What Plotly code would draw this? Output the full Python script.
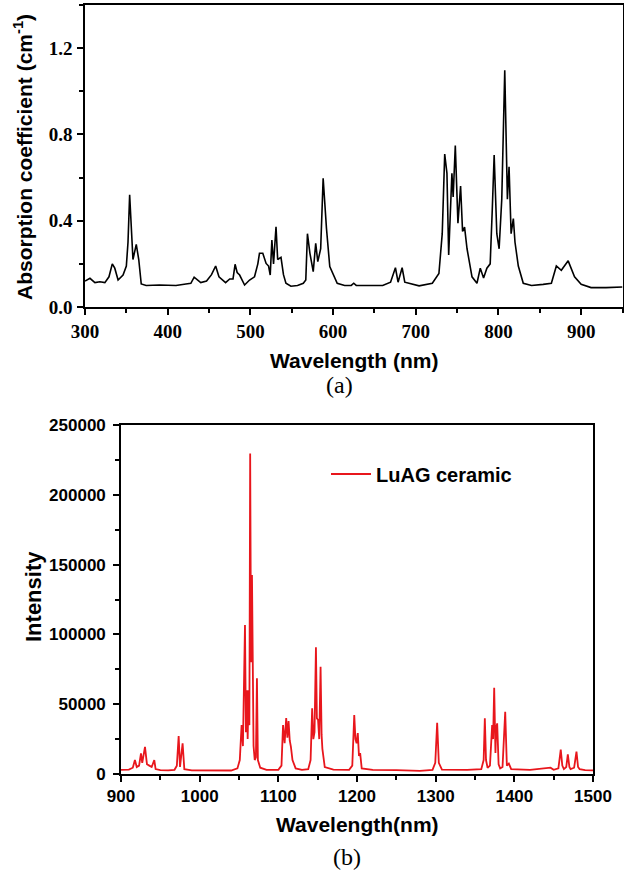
import plotly.graph_objects as go

# ---------------- data: (a) absorption spectrum ----------------
abs_wl = [300, 306, 312, 318, 324, 329, 333, 336, 340, 346, 350, 352, 354, 356, 358, 362, 365, 368,
          374, 390, 410, 422, 428, 432, 436, 440, 447, 453, 458, 462, 470, 475, 479, 481.5, 484, 487,
          493, 499, 505, 509, 511, 515, 519, 522, 524, 526, 528, 531, 533, 537, 540, 543, 549, 557,
          564, 567, 569, 572, 576, 579, 581.5, 585, 588, 590, 592, 596, 599, 605, 614, 622, 625, 628,
          640, 660, 669.5, 675.4, 678.6, 683.5, 686.7, 695.6, 704, 720, 728, 732, 735, 737.7, 739.8,
          743.7, 745.2, 747.8, 751, 754.2, 756.6, 759, 762, 768, 774, 778, 782, 786, 790, 792.5,
          794.8, 798, 800.8, 804, 807.6, 810.8, 812.8, 815.3, 818, 820, 824, 830, 840, 854, 864, 870,
          876, 884.3, 892, 900, 912, 930, 950]
abs_coef = [0.12, 0.133, 0.113, 0.117, 0.113, 0.14, 0.20, 0.18, 0.125, 0.148, 0.19, 0.30, 0.52, 0.36,
            0.22, 0.29, 0.22, 0.107, 0.10, 0.102, 0.10, 0.107, 0.11, 0.138, 0.125, 0.113, 0.12, 0.15,
            0.19, 0.14, 0.113, 0.13, 0.13, 0.198, 0.16, 0.148, 0.102, 0.125, 0.14, 0.20, 0.249, 0.249,
            0.202, 0.19, 0.148, 0.31, 0.20, 0.372, 0.22, 0.23, 0.15, 0.11, 0.096, 0.10, 0.11, 0.125,
            0.34, 0.249, 0.164, 0.295, 0.21, 0.27, 0.597, 0.45, 0.365, 0.187, 0.16, 0.11, 0.10, 0.10,
            0.11, 0.10, 0.10, 0.10, 0.115, 0.182, 0.115, 0.182, 0.115, 0.105, 0.098, 0.11, 0.155, 0.34,
            0.709, 0.62, 0.241, 0.62, 0.51, 0.748, 0.388, 0.561, 0.35, 0.37, 0.27, 0.14, 0.11, 0.18,
            0.134, 0.18, 0.20, 0.45, 0.705, 0.34, 0.27, 0.50, 1.098, 0.50, 0.65, 0.34, 0.41, 0.30,
            0.19, 0.11, 0.10, 0.105, 0.11, 0.19, 0.17, 0.214, 0.14, 0.105, 0.09, 0.09, 0.093]

# ---------------- data: (b) emission spectrum ----------------
em_wl = [900, 910, 915, 917.7, 920, 923, 925.4, 927, 930.5, 933, 936, 939, 942.3, 944, 950, 960, 968,
         971, 973.3, 975, 978.3, 980.5, 990, 1000, 1020, 1040, 1048, 1051, 1053.3, 1055, 1057.6,
         1058.8, 1060, 1061, 1062.3, 1063.2, 1064.2, 1065.3, 1066.5, 1067.5, 1068.5, 1070, 1071.5,
         1072.8, 1074, 1077, 1085, 1100, 1104, 1106, 1108, 1110, 1111.5, 1113, 1114.5, 1116, 1118,
         1122, 1130, 1138, 1141, 1143, 1144.5, 1146, 1147.8, 1149, 1150.5, 1152, 1153.7, 1155, 1156,
         1159, 1170, 1190, 1194, 1196.5, 1198, 1199.5, 1201, 1202.5, 1204, 1206, 1220, 1250, 1280,
         1296, 1299.5, 1301.9, 1304, 1308, 1340, 1358, 1361, 1362.5, 1364, 1366, 1369, 1371.8, 1373,
         1374.4, 1376, 1377, 1378.2, 1380, 1382, 1385, 1388.4, 1390.5, 1393, 1396, 1420, 1446, 1450,
         1456, 1459, 1461, 1463, 1466, 1468, 1470, 1471.5, 1476, 1479, 1481, 1483, 1490, 1500]
em_int = [3000, 3200, 4500, 10000, 5000, 6000, 14800, 8000, 19500, 7000, 6000, 5000, 10000, 3500, 2800,
          2600, 3000, 6000, 27200, 5000, 22000, 3500, 2600, 2500, 2300, 2500, 4000, 10000, 35100, 20000,
          106700, 30000, 60000, 25000, 60000, 35000, 229600, 80000, 142500, 40000, 20000, 10000, 12000,
          68500, 10000, 4500, 3000, 3000, 6000, 35000, 22000, 40000, 26000, 38000, 24000, 19500, 10000,
          4000, 3000, 3500, 10000, 47000, 25000, 30000, 90700, 40000, 38700, 25000, 76800, 28000, 18000,
          5000, 3200, 3000, 6000, 42200, 25000, 22000, 29300, 13000, 15000, 4000, 3000, 2800, 2200,
          3000, 8000, 36700, 8000, 3200, 3000, 3500, 10000, 39900, 10000, 4500, 6000, 35000, 25000,
          61800, 15000, 33000, 36300, 7000, 4000, 5000, 44600, 6000, 7500, 3500, 3000, 4500, 3000,
          4000, 17500, 6000, 3500, 5000, 14000, 5000, 3500, 4500, 16000, 5000, 3500, 2800, 2600]

series_name = "LuAG ceramic"

W, H = 624, 873


def px_x(p):
    return p / W


def px_y(p):
    return 1 - p / H


fig = go.Figure()
fig.add_trace(go.Scatter(x=abs_wl, y=abs_coef, mode="lines", line=dict(color="black", width=1.6),
                         xaxis="x", yaxis="y", showlegend=False))
fig.add_trace(go.Scatter(x=em_wl, y=em_int, mode="lines", line=dict(color="#e8161c", width=1.8),
                         xaxis="x2", yaxis="y2", name=series_name, showlegend=True))

serif_tick = dict(family="Liberation Serif", size=19, color="black", weight="bold")
sans_tick = dict(family="Liberation Sans", size=17, color="black", weight="bold")

common = dict(showgrid=False, zeroline=False, showline=True, linecolor="black", linewidth=1.6,
              mirror=True, ticks="outside", ticklen=6, tickwidth=1.5, tickcolor="black",
              automargin=False)

fig.update_layout(
    width=W, height=H, margin=dict(l=0, r=0, t=0, b=0, pad=0, autoexpand=False),
    paper_bgcolor="white", plot_bgcolor="white",
    xaxis=dict(domain=[px_x(85), px_x(622.5)], anchor="y", range=[300, 950], tick0=300, dtick=100,
               tickfont=serif_tick, minor=dict(dtick=50, ticks="outside", ticklen=4, tickwidth=1.5,
                                               tickcolor="black"), **common),
    yaxis=dict(domain=[px_y(307), px_y(5)], anchor="x", range=[0, 1.4], tick0=0, dtick=0.4,
               tickformat=".1f", tickfont=serif_tick, ticklabelstandoff=1,
               minor=dict(dtick=0.2, ticks="outside", ticklen=4, tickwidth=1.5, tickcolor="black"),
               **common),
    xaxis2=dict(domain=[px_x(121), px_x(593)], anchor="y2", range=[900, 1500], tick0=900, dtick=100,
                tickfont=sans_tick, minor=dict(dtick=50, ticks="outside", ticklen=4, tickwidth=1.5,
                                                tickcolor="black"), **common),
    yaxis2=dict(domain=[px_y(774), px_y(425)], anchor="x2", range=[0, 250000], tick0=0, dtick=50000,
                tickformat="d", tickfont=sans_tick, ticklabelstandoff=4,
                minor=dict(dtick=25000, ticks="outside", ticklen=4, tickwidth=1.5, tickcolor="black"),
                **common),
    legend=dict(x=px_x(326), y=px_y(474), xanchor="left", yanchor="middle", itemwidth=40,
                bgcolor="rgba(0,0,0,0)", borderwidth=0,
                font=dict(family="Liberation Sans", size=20, color="black", weight="bold")),
)

title_font = dict(family="Liberation Sans", size=21, color="black", weight="bold")
annots = [
    dict(text="Wavelength (nm)", x=px_x(354), y=px_y(360), font=title_font),
    dict(text="Absorption coefficient (cm<sup>-1</sup>)", x=px_x(23), y=px_y(157), textangle=-90,
         font=title_font),
    dict(text="Wavelength(nm)", x=px_x(357), y=px_y(824), font=title_font),
    dict(text="Intensity", x=px_x(33), y=px_y(597), textangle=-90,
         font=dict(family="Liberation Sans", size=22, color="black", weight="bold")),
    dict(text="(a)", x=px_x(340), y=px_y(385),
         font=dict(family="Liberation Serif", size=24, color="black")),
    dict(text="(b)", x=px_x(347), y=px_y(857),
         font=dict(family="Liberation Serif", size=24, color="black")),
]
for a in annots:
    fig.add_annotation(xref="paper", yref="paper", xanchor="center", yanchor="middle",
                       showarrow=False, **a)

# remove the default 8px page margin so the 624x873 figure fills the window exactly
fig.write_html("out.html", config={"displayModeBar": False},
               post_script="document.body.style.margin='0';document.body.style.overflow='hidden';")
